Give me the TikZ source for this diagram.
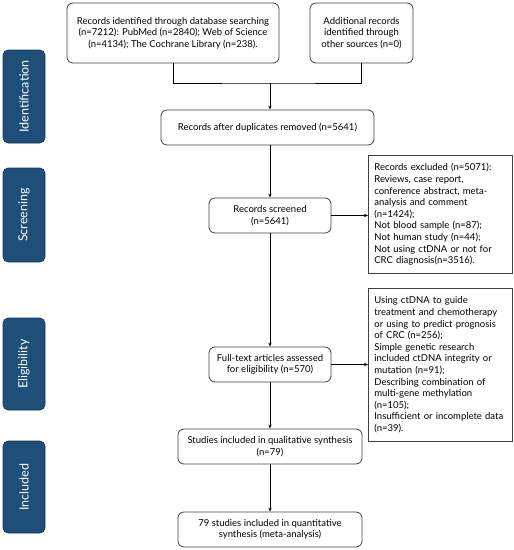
\documentclass[tikz,border=0pt]{standalone}
\usepackage{fontspec}
\setmainfont{Lato}
\usetikzlibrary{arrows.meta}
\definecolor{phase}{HTML}{1F4E79}
\definecolor{edge}{HTML}{404040}
\tikzset{
  rbox/.style={draw=edge, line width=0.8pt, rounded corners=6pt, align=center, inner sep=2pt,
    font=\fontsize{9.5}{11.6}\selectfont},
  sbox/.style={draw=edge, line width=0.8pt, align=left, inner sep=0pt, anchor=north west,
    font=\fontsize{9.5}{11.6}\selectfont},
  phasebox/.style={fill=phase, draw=phase!70!black, line width=0.6pt, rounded corners=5pt, text=white,
    rotate=90, minimum width=#1, minimum height=42pt, font=\fontsize{12.5}{14}\selectfont},
  conn/.style={draw=black, line width=0.7pt},
  arr/.style={conn, -{Stealth[length=4pt,width=3.2pt]}}
}
\begin{document}
\begin{tikzpicture}[x=1pt,y=-1pt]
\useasboundingbox (0,0) rectangle (514,550);
% phase labels
\node[phasebox=93pt] (pid) at (24,96.5) {Identification};
\node[phasebox=94pt] (psc) at (24,215) {Screening};
\node[phasebox=92pt] (pel) at (24,364) {Eligibility};
\node[phasebox=92pt] (pin) at (24,487) {Included};
% boxes
\node[rbox, minimum width=212pt, minimum height=60pt] (a) at (173,33)
  {Records identified through database searching\\(n=7212): PubMed (n=2840); Web of Science\\(n=4134); The Cochrane Library (n=238).};
\node[rbox, minimum width=103pt, minimum height=60pt] (b) at (361.5,33)
  {Additional records\\identified through\\other sources (n=0)};
\node[rbox, minimum width=213pt, minimum height=35pt] (c) at (267.5,127.5)
  {Records after duplicates removed (n=5641)};
\node[rbox, minimum width=122pt, minimum height=35pt] (s) at (270,215.5)
  {Records screened\\(n=5641)};
\node[rbox, minimum width=122pt, minimum height=35pt] (f) at (270,364.5)
  {Full-text articles assessed\\for eligibility (n=570)};
\node[rbox, minimum width=184pt, minimum height=35pt] (q) at (270,446.5)
  {Studies included in qualitative synthesis\\(n=79)};
\node[rbox, minimum width=184pt, minimum height=35pt] (m) at (270,529.5)
  {79 studies included in quantitative\\synthesis (meta-analysis)};
% exclusion boxes
\node[sbox, minimum width=144pt, minimum height=118pt, text width=144pt] (e1) at (368,155)
  {\hspace*{6pt}\parbox[c][118pt][c]{136pt}{Records excluded (n=5071):\\Reviews, case report,\\conference abstract, meta-\\analysis and comment\\(n=1424);\\Not blood sample (n=87);\\Not human study (n=44);\\Not using ctDNA or not for\\CRC diagnosis(n=3516).}};
\node[sbox, minimum width=144pt, minimum height=153pt, text width=144pt] (e2) at (368,288)
  {\hspace*{6pt}\parbox[c][153pt][c]{136pt}{Using ctDNA to guide\\treatment and chemotherapy\\or using to predict prognosis\\of CRC (n=256);\\Simple genetic research\\included ctDNA integrity or\\mutation (n=91);\\Describing combination of\\multi-gene methylation\\(n=105);\\Insufficient or incomplete data\\(n=39).}};
% connectors
\coordinate (j) at (270,83);
\draw[conn] (a.south) |- (j) -| (b.south);
\draw[arr] (j) -- (j |- c.north);
\draw[arr] (s.north |- c.south) -- (s.north);
\draw[arr] (s.south) -- (f.north);
\draw[arr] (f.south) -- (q.north);
\draw[arr] (q.south) -- (m.north);
\draw[arr] (s.east) -- (s.east -| e1.west);
\draw[arr] (f.east) -- (f.east -| e2.west);
\end{tikzpicture}
\end{document}
